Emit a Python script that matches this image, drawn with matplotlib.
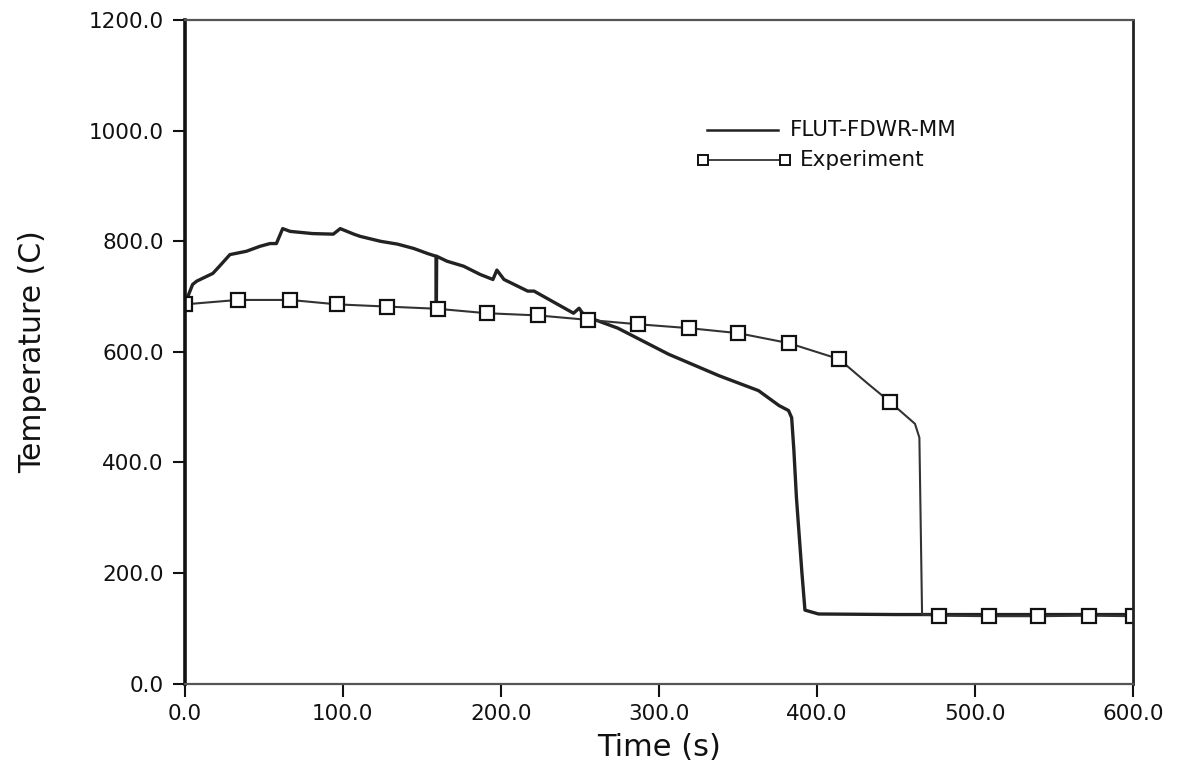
import matplotlib
matplotlib.use("Agg")
import matplotlib.pyplot as plt
from matplotlib.ticker import FormatStrFormatter

# FLUT-FDWR-MM calculation (time s, temperature C)
flut_t = [0, 5, 7.6, 17.8, 22, 28.6, 39, 47.6, 54, 58, 62, 66.7, 81, 94, 98.4, 107,
          111, 124, 134.6, 145, 153.6, 159, 159.2, 159.4, 166, 176.5, 187, 195, 197.5,
          202, 217, 221, 246, 249.5, 253, 274, 306, 338, 363, 376, 382, 384, 385.4,
          387, 390.5, 392.4, 401, 450, 500, 550, 600]
flut_y = [686, 722, 728, 742, 755, 776, 782, 791, 796, 796, 823, 818, 814, 813, 823, 813,
          809, 800, 795, 787, 778, 773, 679, 773, 764, 755, 740, 731, 748,
          731, 710, 710, 670, 679, 665, 643, 596, 557, 530, 503, 494, 481, 422,
          337, 200, 133, 126, 125, 125, 125, 125]

# Experiment (time s, temperature C)
exp_t = [0, 33.6, 66.7, 96.5, 128, 160, 191, 223.5, 255, 287, 319, 350, 382, 414, 431.6,
         446, 462, 464.8, 466.5, 477, 508.6, 540, 572, 600]
exp_y = [686, 694, 694, 686, 682, 678, 670, 666, 658, 650, 643, 634, 616, 587, 544,
         510, 470, 445, 125, 123, 122, 122, 123, 122]
exp_marked = [0, 1, 2, 3, 4, 5, 6, 7, 8, 9, 10, 11, 12, 13, 15, 19, 20, 21, 22, 23]

x_ticks = [0, 100, 200, 300, 400, 500, 600]
y_ticks = [0, 200, 400, 600, 800, 1000, 1200]

fig = plt.figure(figsize=(11.84, 7.76), dpi=100)
ax = fig.add_axes([0.156, 0.119, 0.801, 0.855])

ax.plot(flut_t, flut_y, color="#222222", lw=2.4, solid_joinstyle="round")
ax.plot(exp_t, exp_y, color="#333333", lw=1.5, marker="s", markevery=exp_marked,
        markersize=10, markerfacecolor="white", markeredgecolor="#111111",
        markeredgewidth=1.6)

ax.set_xlim(0, 600)
ax.set_ylim(0, 1200)
ax.set_xticks(x_ticks)
ax.set_yticks(y_ticks)
ax.xaxis.set_major_formatter(FormatStrFormatter("%.1f"))
ax.yaxis.set_major_formatter(FormatStrFormatter("%.1f"))
ax.tick_params(axis="both", direction="out", length=9, width=1.5, labelsize=15.5,
               colors="#111111", pad=6)
ax.tick_params(top=False, right=False)

for side, lw, col in [("left", 2.6, "#111111"), ("right", 2.0, "#222222"),
                      ("top", 1.6, "#555555"), ("bottom", 1.6, "#555555")]:
    ax.spines[side].set_linewidth(lw)
    ax.spines[side].set_color(col)

ax.set_xlabel("Time (s)", fontsize=22, color="#111111")
ax.set_ylabel("Temperature (C)", fontsize=21.5, color="#111111")
ax.xaxis.set_label_coords(0.5, -0.075)
ax.yaxis.set_label_coords(-0.145, 0.5)

# legend drawn by hand
ax.plot([0.551, 0.626], [0.834, 0.834], transform=ax.transAxes, color="#222222", lw=1.8)
ax.text(0.638, 0.834, "FLUT-FDWR-MM", transform=ax.transAxes, fontsize=15.5,
        va="center", ha="left", color="#111111")
ax.plot([0.546, 0.633], [0.789, 0.789], transform=ax.transAxes, color="#333333", lw=1.3,
        marker="s", markersize=7, markerfacecolor="white", markeredgecolor="#111111",
        markeredgewidth=1.4)
ax.text(0.649, 0.789, "Experiment", transform=ax.transAxes, fontsize=15.5,
        va="center", ha="left", color="#111111")

fig.savefig("out.png", dpi=100)
